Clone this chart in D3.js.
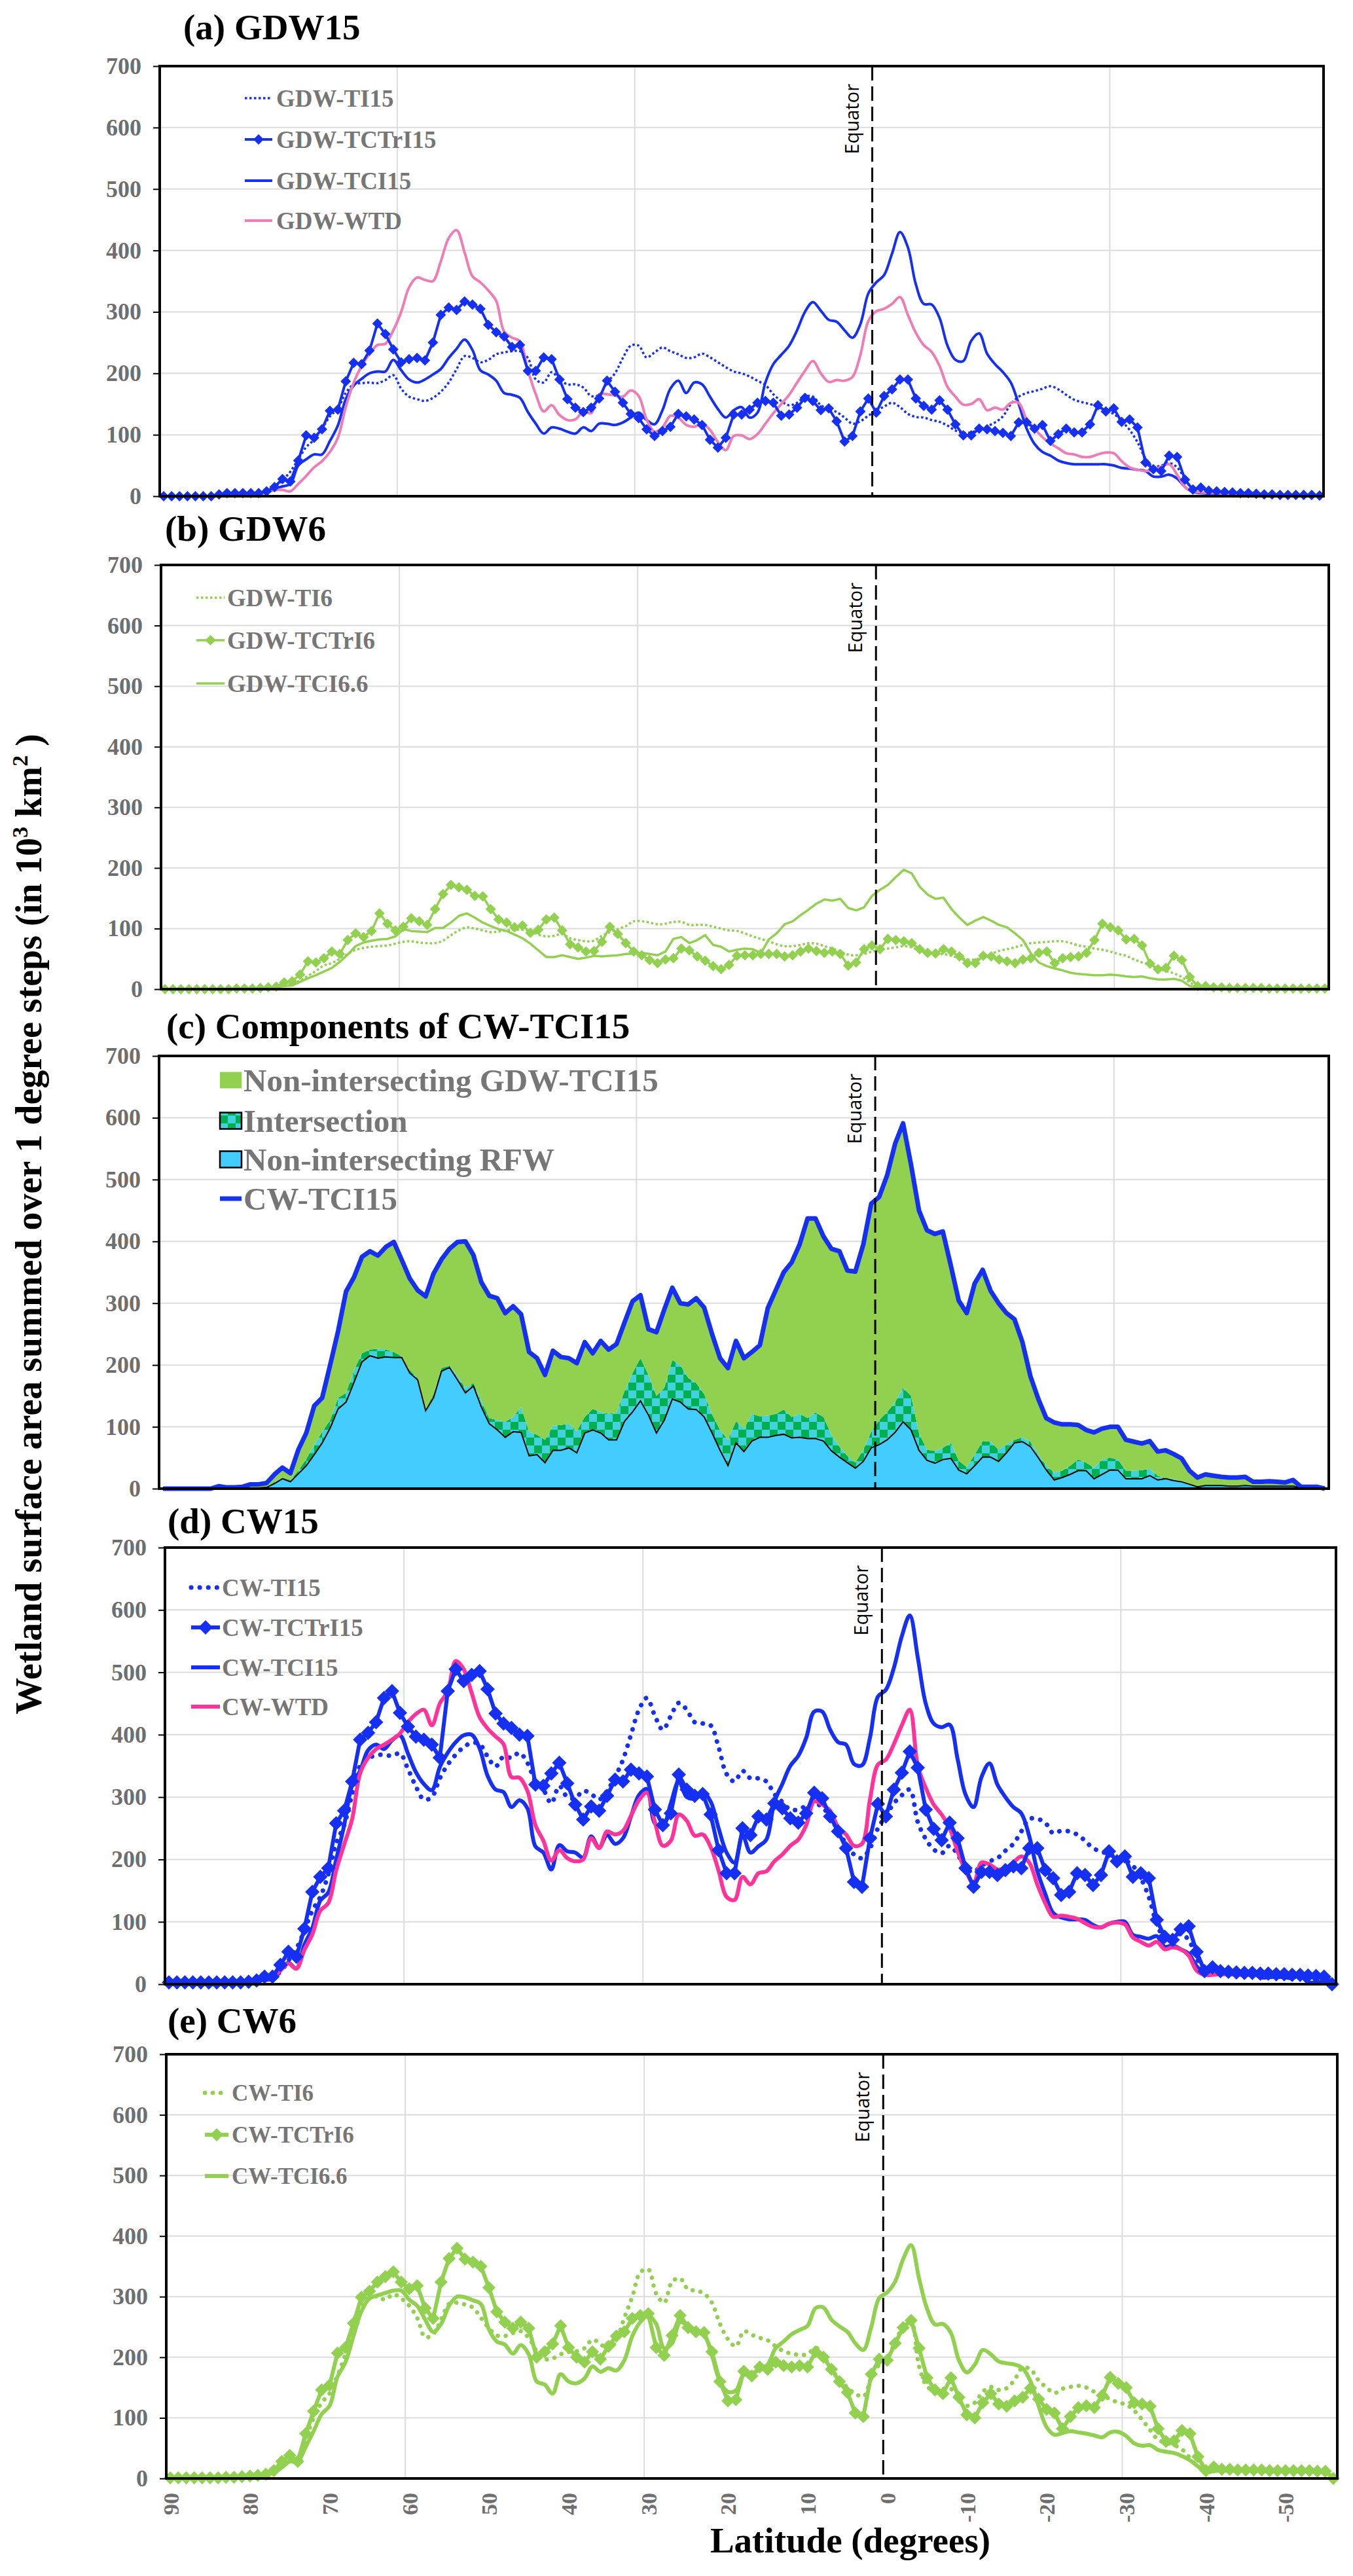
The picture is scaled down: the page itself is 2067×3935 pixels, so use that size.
<!DOCTYPE html>
<html>
<head>
<meta charset="utf-8">
<script src="https://cdn.jsdelivr.net/npm/d3@7"></script>
<style>body{margin:0;background:#fff}</style>
</head>
<body>
<script>
var W = 2067, H = 3935;

// latitude categories, 1 degree steps from 90 N to 56 S
var lats = d3.range(90, -57, -1);
var yTicks = [0, 100, 200, 300, 400, 500, 600, 700];
var xTickLabels = [90, 80, 70, 60, 50, 40, 30, 20, 10, 0, -10, -20, -30, -40, -50];
var gridLats = [60, 30, -30];

// (a) GDW15
var gdwTI15 = [0,0,0,0,0,0,0,1,2,3, 3,4,5,8,15,26,40,60,80,92,
  110,130,143,168,182,184,185,184,189,197, 175,162,158,155,160,170,185,207,228,225,
  218,222,231,234,236,236,225,190,185,202, 190,182,182,177,163,165,185,200,225,245,
  245,226,234,242,236,231,225,226,232,226, 218,210,203,200,195,188,181,166,155,148,
  152,162,162,148,142,137,128,118,122,131, 139,146,152,145,134,129,128,124,121,115,
  107,103,104,109,114,120,130,150,162,168, 171,175,179,174,165,157,153,150,145,138,
  134,122,108,88,62,48,50,54,47,28, 10,6,5,4,4,3,3,3,2,2, 2,2,2,1,1,1,1];
var gdwTCTrI15 = [0,0,0,0,0,0,0,3,5,5, 5,5,5,8,15,28,24,58,99,95,
  109,139,141,187,217,215,237,281,264,239, 218,223,225,221,250,295,307,303,317,312,
  305,279,267,260,243,246,204,204,226,223, 190,158,144,137,144,159,188,170,152,134,
  127,109,98,106,113,134,130,125,116,92, 79,95,133,133,141,152,155,152,131,133,
  144,160,155,140,143,122,89,98,138,159, 136,163,174,190,190,159,147,141,156,141,
  117,99,99,110,109,106,103,98,120,120, 110,116,90,101,110,104,104,117,148,138,
  143,121,125,112,55,44,41,66,64,27, 11,14,9,8,7,6,5,5,4,3, 3,2,2,2,2,2,1];
var gdwTCI15 = [0,0,0,0,0,0,0,1,2,2, 3,3,4,6,12,16,20,50,60,68,
  68,90,115,158,180,191,200,203,203,222, 205,190,185,190,198,207,225,240,255,238,
  205,198,188,168,165,160,137,118,102,112, 110,105,102,112,106,118,118,116,120,128,
  136,124,117,140,175,188,168,185,182,162, 142,128,140,145,128,136,185,215,230,245,
  270,300,316,302,287,284,270,258,280,330, 348,360,395,430,405,345,313,312,290,245,
  222,220,253,265,232,215,202,185,150,110, 85,72,66,58,54,52,52,52,52,52,
  50,46,45,43,41,32,32,35,29,15, 7,5,4,4,3,3,3,2,2,2, 2,2,2,1,1,1,1];
var gdwWTD = [0,0,0,0,0,0,0,0,1,1, 2,3,4,6,10,10,8,20,33,47,
  57,72,95,145,185,212,232,246,248,270, 300,340,356,352,350,382,420,433,397,358,
  348,335,318,268,258,252,205,166,138,148, 132,124,125,138,135,166,166,164,162,172,
  163,125,105,112,131,128,116,113,118,108, 88,75,98,99,93,101,118,135,150,165,
  185,204,220,200,186,189,188,194,230,285, 301,305,313,324,295,266,246,235,212,178,
  162,149,150,158,140,144,141,152,152,125, 110,96,86,78,70,68,64,64,68,71,
  70,57,47,43,41,43,48,52,35,15, 8,6,5,5,4,4,3,3,3,2, 2,2,2,2,2,1,1];

// (b) GDW6
var gdwTI6 = [0,0,0,0,0,0,0,0,0,1, 1,1,2,3,4,6,9,14,22,30,
  39,43,50,58,65,68,70,71,72,75, 78,79,77,76,76,80,89,97,102,100,
  97,94,95,97,98,98,96,90,87,88, 91,84,81,79,80,88,94,99,104,112,
  112,110,107,108,111,111,106,106,106,103, 100,97,96,92,87,83,79,74,71,71,
  73,76,75,71,67,62,57,56,58,62, 65,67,69,71,69,63,60,58,58,55,
  52,49,49,53,58,63,66,69,73,76, 77,78,79,79,76,72,70,67,65,62,
  58,55,49,44,40,34,30,26,20,11, 5,3,2,2,2,1,1,1,1,1, 1,1,1,1,1,1,1];
var gdwTCTrI6 = [0,0,0,0,0,0,0,0,0,1, 1,1,2,3,4,11,13,24,46,44,
  51,62,58,81,92,86,96,125,108,97, 103,117,112,106,132,157,172,168,164,154,
  153,132,115,110,102,105,93,98,115,118, 97,74,69,62,63,78,103,91,76,62,
  56,48,43,49,51,67,64,54,47,38, 33,40,55,56,56,58,58,58,54,56,
  62,67,63,60,62,58,39,44,66,72, 66,83,81,79,76,66,60,59,66,62,
  54,43,43,55,54,49,46,43,49,51, 60,62,43,51,53,54,60,81,108,102,
  97,82,83,72,42,33,35,55,48,20, 5,5,3,3,2,2,2,2,2,1, 1,1,1,1,1,1,1];
var gdwTCI66 = [0,0,0,0,0,0,0,0,0,0, 1,1,1,2,3,5,6,12,18,23,
  29,35,45,57,71,77,80,82,83,87, 99,96,95,94,101,101,110,121,125,118,
  110,104,99,96,90,84,75,64,53,53, 56,53,50,52,55,54,55,56,58,59,
  60,58,56,62,83,86,76,81,89,73, 70,62,65,67,66,59,82,92,107,112,
  122,131,141,148,146,149,134,130,135,154, 164,172,185,197,191,169,156,149,151,132,
  118,106,113,119,113,106,102,92,81,59, 44,38,34,31,27,25,24,23,23,24,
  23,21,20,21,18,16,16,17,14,5, 3,2,2,2,2,1,1,1,1,1, 1,1,1,1,1,1,1];

// (c) components of CW-TCI15
var rfwOnly = [0,0,0,0,0,0,0,0,0,0, 1,1,1,2,8,16,11,24,37,55,
  74,98,129,140,172,205,215,211,213,212, 212,187,176,126,147,190,196,176,155,166,
  132,105,95,83,92,91,53,55,42,62, 62,66,58,90,95,90,79,79,109,124,
  142,119,90,111,145,140,129,128,116,90, 62,37,74,60,77,83,83,86,88,82,
  83,81,81,77,61,51,42,33,44,66, 71,79,91,108,95,62,46,41,47,49,
  30,24,37,51,51,44,58,74,76,68, 50,30,14,18,23,29,29,16,23,30,
  30,16,16,16,21,14,16,13,11,7, 3,5,5,5,4,4,5,4,4,4, 4,4,4,2,2,1,0];
var intersection = [0,0,0,0,0,0,0,0,0,0, 0,0,0,1,3,2,3,5,11,16,
  18,13,18,15,20,14,10,15,12,9, 2,5,3,3,6,5,3,6,8,5,
  10,9,16,25,24,41,39,32,37,40, 41,39,35,26,34,34,42,44,49,63,
  69,65,60,52,63,60,50,43,37,30, 33,42,35,37,44,34,35,35,40,34,
  38,33,42,39,26,17,11,9,19,26, 40,45,49,55,55,28,17,20,19,25,
  15,11,18,26,25,19,14,5,7,8, 5,7,12,11,14,18,13,18,24,20,
  17,13,13,14,11,7,1,3,0,0, 0,0,0,0,0,0,0,0,0,0, 0,0,0,0,0,0,0];
var gdwOnly = [0,0,0,0,0,0,0,4,2,2, 2,6,6,6,12,16,11,34,42,63,
  55,89,108,164,150,156,159,151,166,178, 156,148,142,182,195,176,189,217,237,207,
  192,198,197,176,179,150,129,124,105,121, 110,106,110,121,90,115,104,111,111,116,
  102,74,103,127,117,100,119,137,140,130, 116,116,130,114,100,115,174,200,222,250,
  274,323,314,292,301,316,300,309,332,369, 361,383,418,428,374,360,355,351,350,287,
  259,249,277,277,244,237,212,195,154,106, 90,77,81,75,67,56,53,57,50,50,
  53,50,47,43,45,39,45,40,38,22, 15,18,16,14,14,14,14,7,7,8, 7,6,10,1,1,2,0];

// (d) CW15
var cwTI15 = [1,1,1,1,1,1,1,1,2,2, 4,6,8,12,20,38,57,86,118,140,
  176,226,255,305,350,362,367,368,366,370, 345,317,296,300,330,352,368,380,387,385,
  365,349,365,363,371,355,325,312,290,318, 300,298,310,305,296,310,332,360,400,440,
  459,430,408,430,451,440,420,418,415,380, 337,325,342,330,330,325,305,292,280,280,
  286,290,284,268,246,225,208,202,218,250, 270,290,303,312,260,233,216,210,222,208,
  186,180,190,197,202,214,225,245,265,265, 259,242,246,245,240,230,218,213,208,204,
  199,190,170,140,97,74,72,81,71,42, 21,20,19,18,18,17,17,16,16,15, 15,15,14,14,13,12,5];
var cwTCTrI15 = [3,3,3,3,3,3,3,3,3,3, 4,6,12,12,31,52,44,89,148,172,
  186,258,278,325,392,403,420,459,470,435, 413,397,392,384,363,470,505,486,496,502,
  473,434,418,411,400,398,320,318,338,355, 322,288,264,285,278,302,328,325,344,338,
  333,280,255,274,336,312,302,305,272,215, 178,178,250,239,269,264,290,282,266,259,
  274,307,298,269,245,218,164,156,234,289, 269,312,339,373,347,280,249,231,259,234,
  186,156,180,180,175,183,189,186,218,218, 183,170,143,148,178,175,159,175,213,197,
  205,172,178,170,103,76,71,88,93,52, 21,27,21,20,19,18,18,17,17,16, 16,15,15,14,13,12,0];
var cwWTD = [0,0,0,0,0,0,0,0,1,2, 4,7,8,11,22,33,25,55,80,118,
  130,183,224,265,338,363,377,384,392,402, 420,433,440,415,450,470,518,505,467,428,
  410,397,385,332,331,310,255,230,198,215, 202,197,200,234,218,245,240,246,270,295,
  307,260,222,230,272,262,238,240,220,182, 140,135,172,160,178,181,197,208,222,232,
  255,293,288,278,252,240,222,225,296,352, 360,385,415,440,350,315,288,272,250,213,
  182,162,195,192,184,186,195,205,195,160, 130,108,110,108,105,98,92,91,97,99,
  96,75,68,62,68,56,59,56,46,22, 15,15,16,16,15,15,15,14,14,14, 14,14,14,15,14,14,0];

// (e) CW6
var cwTI6 = [0,0,0,0,0,0,0,1,1,2, 3,4,6,12,23,28,31,65,100,125,
  140,170,205,250,282,298,300,295,304,297, 285,265,233,238,262,288,290,287,282,265,
  248,236,235,240,243,232,210,197,198,205, 209,210,215,229,222,212,228,265,300,340,
  345,305,290,325,330,312,310,305,290,255, 230,218,243,237,232,228,218,210,206,204,
  205,216,202,180,164,150,140,135,165,188, 198,225,250,258,185,152,145,148,148,128,
  120,125,143,151,146,149,163,183,180,162, 150,141,148,151,153,150,143,136,131,125,
  122,112,97,80,64,59,55,48,34,20, 15,14,14,13,13,13,13,13,12,12, 12,12,12,12,12,11,0];
var cwTCTrI6 = [1,1,1,1,1,1,1,2,2,3, 4,5,7,13,28,38,28,74,111,146,
  154,207,216,256,299,309,324,333,341,324, 313,318,281,264,324,363,380,362,357,350,
  315,275,258,248,258,248,200,209,222,252, 216,200,192,209,197,218,235,242,264,269,
  272,216,203,236,269,249,242,241,209,160, 128,130,177,169,184,180,192,186,184,186,
  184,209,200,180,160,142,108,102,172,197, 195,223,249,261,215,166,146,140,166,134,
  105,100,125,140,123,119,128,134,149,131, 114,108,82,102,117,120,117,137,167,157,
  150,125,123,119,82,61,62,79,74,36, 13,19,15,15,14,14,14,14,13,13, 13,13,13,13,12,12,0];
var cwTCI66 = [0,0,0,0,0,0,0,1,1,2, 3,4,6,10,18,28,28,52,78,106,
  120,168,192,235,276,297,302,306,310,310, 295,285,262,242,255,285,300,299,294,288,
  246,226,221,206,220,205,160,155,140,172, 160,157,165,185,176,182,178,195,235,258,
  269,255,215,223,258,252,241,237,203,160, 143,145,172,173,180,188,215,226,238,245,
  252,281,282,262,251,242,223,212,250,298, 307,325,362,385,330,280,254,255,240,195,
  175,188,212,205,193,190,188,182,160,120, 85,72,75,78,76,74,71,68,76,77,
  70,58,54,55,47,44,42,37,30,20, 10,12,13,13,13,13,13,12,12,12, 12,12,12,12,12,11,0];

// stacked components of CW-TCI15
var compTable = lats.map(function(lat, i){
  return {lat: lat, rfw: rfwOnly[i], inter: intersection[i], gdw: gdwOnly[i]};
});
var stacked = d3.stack().keys(["rfw", "inter", "gdw"])(compTable);
var cwTCI15 = stacked[2].map(function(d){ return d[1]; });

var BLUE = "#1530F2", PINK_A = "#EE7DB6", PINK_D = "#FF3399", GREEN = "#92D050";
var SERIF = "'Liberation Serif', 'Times New Roman', serif";
var GREY = "#767676";

var svg = d3.select("body").append("svg")
  .attr("width", W)
  .attr("height", H)
  .style("font-family", SERIF);

var defs = svg.append("defs");
var pat = defs.append("pattern").attr("id", "checker")
  .attr("patternUnits", "userSpaceOnUse").attr("width", 24).attr("height", 24);
pat.append("rect").attr("width", 24).attr("height", 24).attr("fill", "#43D2DC");
pat.append("rect").attr("width", 12).attr("height", 12).attr("fill", "#00B050");
pat.append("rect").attr("x", 12).attr("y", 12).attr("width", 12).attr("height", 12).attr("fill", "#00B050");

var diamond = function(r){ return "M0," + (-r) + "L" + r + ",0L0," + r + "L" + (-r) + ",0Z"; };

function drawPanel(p) {
  var x = d3.scaleLinear().domain([90.5, -56.5]).range([p.left, p.right]);
  var y = d3.scaleLinear().domain([0, 700]).range([p.bottom, p.top]);
  var g = svg.append("g");

  // grid
  g.selectAll(null).data(yTicks.filter(function(v){ return v > 0 && v < 700; }))
    .enter().append("line")
    .attr("x1", p.left).attr("x2", p.right)
    .attr("y1", function(d){ return y(d); }).attr("y2", function(d){ return y(d); })
    .attr("stroke", "#dcdcdc").attr("stroke-width", 2);
  g.selectAll(null).data(gridLats).enter().append("line")
    .attr("x1", function(d){ return x(d + 0.5); }).attr("x2", function(d){ return x(d + 0.5); })
    .attr("y1", p.top).attr("y2", p.bottom)
    .attr("stroke", "#dcdcdc").attr("stroke-width", 2);

  if (p.stack) {
    var area = d3.area()
      .x(function(d, i){ return x(lats[i]); })
      .y0(function(d){ return y(d[0]); })
      .y1(function(d){ return y(d[1]); });
    var fills = ["#43CDFF", "url(#checker)", GREEN];
    stacked.forEach(function(layer, k){
      g.append("path").attr("d", area(layer)).attr("fill", fills[k]);
    });
    var top0 = d3.line().x(function(d, i){ return x(lats[i]); }).y(function(d){ return y(d[1]); });
    g.append("path").attr("d", top0(stacked[0])).attr("fill", "none")
      .attr("stroke", "#000").attr("stroke-width", 2);
  }

  p.series.forEach(function(s){
    var ln = d3.line()
      .x(function(d, i){ return x(lats[i]); })
      .y(function(d){ return y(d); })
      .curve(s.smooth ? d3.curveCatmullRom.alpha(0.5) : d3.curveLinear);
    g.append("path").attr("d", ln(s.data))
      .attr("fill", "none").attr("stroke", s.color).attr("stroke-width", s.width)
      .attr("stroke-dasharray", s.dash || null)
      .attr("stroke-linecap", s.cap || "butt")
      .attr("stroke-linejoin", "round");
    if (s.marker) {
      g.selectAll(null).data(s.data).enter().append("path")
        .attr("d", diamond(s.marker))
        .attr("transform", function(d, i){ return "translate(" + x(lats[i]) + "," + y(d) + ")"; })
        .attr("fill", s.color);
    }
  });

  // equator
  var ex = x(0.5);
  g.append("line").attr("x1", ex).attr("x2", ex).attr("y1", p.top).attr("y2", p.bottom)
    .attr("stroke", "#000").attr("stroke-width", 3).attr("stroke-dasharray", "22,9");
  g.append("text")
    .attr("transform", "translate(" + (ex - 21) + "," + (p.top + 27) + ") rotate(-90)")
    .attr("text-anchor", "end")
    .style("font-family", "'Open Sans', 'DejaVu Sans', sans-serif")
    .style("font-size", "29px").attr("fill", "#000")
    .text("Equator");

  // frame
  g.append("rect").attr("x", p.left).attr("y", p.top)
    .attr("width", p.right - p.left).attr("height", p.bottom - p.top)
    .attr("fill", "none").attr("stroke", "#000").attr("stroke-width", 4);

  // y axis
  var ya = g.append("g").attr("transform", "translate(" + p.left + ",0)")
    .call(d3.axisLeft(y).tickValues(yTicks).tickSize(10).tickPadding(18).tickFormat(d3.format("d")));
  ya.attr("font-family", null).attr("font-size", null);
  ya.select(".domain").remove();
  ya.selectAll("line").attr("stroke", "#000").attr("stroke-width", 2);
  ya.selectAll("text").attr("fill", "#6e6e6e")
    .style("font-size", "36px").style("font-weight", "bold").style("font-family", SERIF);

  // x labels
  if (p.xLabels) {
    g.selectAll(null).data(xTickLabels).enter().append("text")
      .attr("transform", function(d){ return "translate(" + (x(d) + 1) + "," + (p.bottom + 22) + ") rotate(-90)"; })
      .attr("text-anchor", "end").attr("dominant-baseline", "central")
      .attr("fill", "#6e6e6e").style("font-size", "34px").style("font-weight", "bold")
      .text(function(d){ return d; });
  }

  // title
  g.append("text").attr("x", p.titleX).attr("y", p.titleY)
    .style("font-size", "55px").style("font-weight", "bold").attr("fill", "#000")
    .text(p.title);

  // legend
  var L = p.legend;
  L.items.forEach(function(it, k){
    var ry = L.rows[k];
    if (it.box) {
      g.append("rect").attr("x", L.x1).attr("y", ry - 12.5).attr("width", L.x2 - L.x1).attr("height", 25)
        .attr("fill", it.box).attr("stroke", it.stroke || "none").attr("stroke-width", 2.5);
    } else {
      g.append("line").attr("x1", L.x1).attr("x2", L.x2).attr("y1", ry).attr("y2", ry)
        .attr("stroke", it.color).attr("stroke-width", it.width)
        .attr("stroke-dasharray", it.dash || null).attr("stroke-linecap", it.cap || "butt");
      if (it.marker) {
        g.append("path").attr("d", diamond(it.marker))
          .attr("transform", "translate(" + ((L.x1 + L.x2) / 2) + "," + ry + ")")
          .attr("fill", it.color);
      }
    }
    g.append("text").attr("x", L.tx).attr("y", ry).attr("dy", "0.34em")
      .attr("fill", GREY).style("font-size", L.size + "px").style("font-weight", "bold")
      .text(it.name);
  });
}

function s(name, data, color, width, opts) {
  var o = {name: name, data: data, color: color, width: width};
  for (var k in opts) o[k] = opts[k];
  return o;
}

// (a)
var aTI = s("GDW-TI15", gdwTI15, BLUE, 3.5, {dash: "3.5,3.5", smooth: true});
var aTr = s("GDW-TCTrI15", gdwTCTrI15, BLUE, 4, {marker: 8});
var aTC = s("GDW-TCI15", gdwTCI15, BLUE, 4, {smooth: true});
var aWT = s("GDW-WTD", gdwWTD, PINK_A, 4, {smooth: true});
drawPanel({
  title: "(a) GDW15", titleX: 280, titleY: 60,
  left: 244, right: 2022, top: 101, bottom: 758,
  series: [aTI, aTC, aWT, aTr],
  legend: {x1: 374, x2: 416, tx: 422, size: 37, rows: [150, 213, 276, 337], items: [aTI, aTr, aTC, aWT]}
});

// (b)
var bTI = s("GDW-TI6", gdwTI6, GREEN, 3.5, {dash: "3.5,3.5", smooth: true});
var bTr = s("GDW-TCTrI6", gdwTCTrI6, GREEN, 3.5, {marker: 8});
var bTC = s("GDW-TCI6.6", gdwTCI66, GREEN, 3.5, {});
drawPanel({
  title: "(b) GDW6", titleX: 252, titleY: 826,
  left: 246, right: 2030, top: 863, bottom: 1511,
  series: [bTI, bTC, bTr],
  legend: {x1: 300, x2: 343, tx: 347, size: 37, rows: [913, 978, 1044], items: [bTI, bTr, bTC]}
});

// (c)
var cLine = s("CW-TCI15", cwTCI15, BLUE, 7, {});
drawPanel({
  title: "(c) Components of CW-TCI15", titleX: 254, titleY: 1586,
  left: 243, right: 2030, top: 1613, bottom: 2274,
  stack: true,
  series: [cLine],
  legend: {x1: 336, x2: 369, tx: 372, size: 49, rows: [1650, 1712, 1771, 1831], items: [
    {name: "Non-intersecting GDW-TCI15", box: GREEN},
    {name: "Intersection", box: "url(#checker)", stroke: "#000"},
    {name: "Non-intersecting RFW", box: "#43CDFF", stroke: "#000"},
    {name: "CW-TCI15", color: BLUE, width: 7}
  ]}
});

// (d)
var dTI = s("CW-TI15", cwTI15, BLUE, 7, {dash: "0.1,13", cap: "round", smooth: true});
var dTr = s("CW-TCTrI15", cwTCTrI15, BLUE, 6, {marker: 11});
var dTC = s("CW-TCI15", cwTCI15, BLUE, 6, {smooth: true});
var dWT = s("CW-WTD", cwWTD, PINK_D, 6, {smooth: true});
drawPanel({
  title: "(d) CW15", titleX: 256, titleY: 2342,
  left: 252, right: 2041, top: 2364, bottom: 3031,
  series: [dTI, dTC, dWT, dTr],
  legend: {x1: 292, x2: 336, tx: 339, size: 37, rows: [2425, 2486, 2547, 2607], items: [dTI, dTr, dTC, dWT]}
});

// (e)
var eTI = s("CW-TI6", cwTI6, GREEN, 6.5, {dash: "0.1,12", cap: "round", smooth: true});
var eTr = s("CW-TCTrI6", cwTCTrI6, GREEN, 6, {marker: 10});
var eTC = s("CW-TCI6.6", cwTCI66, GREEN, 6, {smooth: true});
drawPanel({
  title: "(e) CW6", titleX: 256, titleY: 3105,
  left: 254, right: 2043, top: 3138, bottom: 3786,
  series: [eTI, eTC, eTr], xLabels: true,
  legend: {x1: 313, x2: 349, tx: 354, size: 35, rows: [3197, 3261, 3324], items: [eTI, eTr, eTC]}
});

// shared axis titles
var yl = svg.append("text")
  .attr("transform", "translate(63,1870) rotate(-90)")
  .attr("text-anchor", "middle")
  .style("font-size", "56px").style("font-weight", "bold").attr("fill", "#000");
yl.append("tspan").text("Wetland surface area summed over 1 degree steps  (in 10");
yl.append("tspan").attr("dy", -21).style("font-size", "34px").text("3");
yl.append("tspan").attr("dy", 21).text(" km");
yl.append("tspan").attr("dy", -21).style("font-size", "34px").text("2");
yl.append("tspan").attr("dy", 21).text(" )");

svg.append("text").attr("x", 1299).attr("y", 3899)
  .attr("text-anchor", "middle")
  .style("font-size", "55px").style("font-weight", "bold").attr("fill", "#000")
  .text("Latitude (degrees)");
</script>
</body>
</html>
